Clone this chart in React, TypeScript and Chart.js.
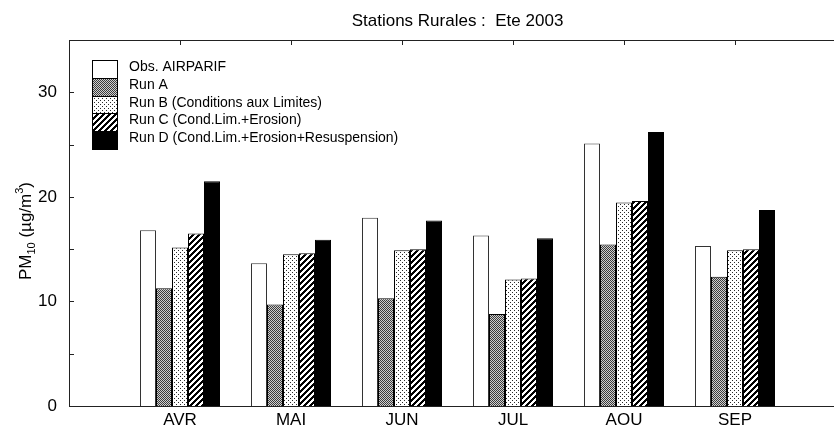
import React, { useEffect, useRef } from 'react';
import { Chart, registerables } from 'chart.js';

Chart.register(...registerables);

const months = ['AVR', 'MAI', 'JUN', 'JUL', 'AOU', 'SEP'];
const obsAirparif = [16.8, 13.65, 18.0, 16.3, 25.1, 15.3];
const runA = [11.25, 9.7, 10.3, 8.8, 15.45, 12.35];
const runB = [15.15, 14.5, 14.9, 12.1, 19.45, 14.9];
const runC = [16.5, 14.6, 15.0, 12.2, 19.6, 15.0];
const runD = [21.5, 15.9, 17.75, 16.05, 26.2, 18.75];
const seriesNames = [
  'Obs. AIRPARIF',
  'Run A',
  'Run B (Conditions aux Limites)',
  'Run C (Cond.Lim.+Erosion)',
  'Run D (Cond.Lim.+Erosion+Resuspension)',
];
const titleText = 'Stations Rurales :  Ete 2003';
const yMin = 0;
const yMax = 35;
const yStep = 5;
const yLabelStep = 10;

const FONT = '"Liberation Sans", Arial, Helvetica, sans-serif';

function makeTile(w: number, h: number, fn: (x: number, y: number) => string) {
  const c = document.createElement('canvas');
  c.width = w;
  c.height = h;
  const g = c.getContext('2d')!;
  for (let y = 0; y < h; y++) {
    for (let x = 0; x < w; x++) {
      g.fillStyle = fn(x, y);
      g.fillRect(x, y, 1, 1);
    }
  }
  return g.createPattern(c, 'repeat')!;
}

function makeFills() {
  const white = '#ffffff';
  const patA = makeTile(2, 2, (x, y) => ((x + y) % 2 === 0 ? '#3c3c3c' : '#cfcfcf'));
  const patB = makeTile(4, 4, (x, y) => ((x === 0 && y === 0) || (x === 2 && y === 2) ? '#2a2a2a' : '#ffffff'));
  const patC = makeTile(6, 6, (x, y) => ((x + y) % 6 < 3 ? '#000000' : '#ffffff'));
  const black = '#000000';
  return [white, patA, patB, patC, black];
}

export default function App() {
  const ref = useRef<HTMLCanvasElement | null>(null);

  useEffect(() => {
    if (!ref.current) return;
    const fills = makeFills();
    const borders = ['#333333', '#000000', '#000000', '#000000', '#000000'];
    const labels = ['', ...months, ''];
    const series = [obsAirparif, runA, runB, runC, runD];

    const decor = {
      id: 'decor',
      afterDraw(chart: any) {
        const ctx = chart.ctx as CanvasRenderingContext2D;
        const xs = chart.scales.x;
        const ys = chart.scales.y;
        const area = chart.chartArea;
        ctx.save();
        ctx.strokeStyle = '#222';
        ctx.lineWidth = 1;
        // inward ticks on left axis
        for (let v = yMin; v <= yMax; v += yStep) {
          const py = Math.round(ys.getPixelForValue(v)) + 0.5;
          ctx.beginPath();
          ctx.moveTo(area.left, py);
          ctx.lineTo(area.left + 5, py);
          ctx.stroke();
        }
        // inward ticks on top axis at categories
        for (let i = 1; i <= months.length; i++) {
          const px = Math.round(xs.getPixelForValue(i)) + 0.5;
          ctx.beginPath();
          ctx.moveTo(px, area.top);
          ctx.lineTo(px, area.top + 5);
          ctx.stroke();
        }
        // legend
        const bx = 92;
        const bw = 26;
        const by = 60;
        const bh = 17.8;
        for (let i = 0; i < seriesNames.length; i++) {
          const top = Math.round(by + bh * i);
          const bot = Math.round(by + bh * (i + 1));
          ctx.fillStyle = fills[i] as any;
          ctx.fillRect(bx, top, bw, bot - top);
          ctx.strokeStyle = '#000';
          ctx.strokeRect(bx + 0.5, top + 0.5, bw - 1, bot - top);
          ctx.fillStyle = '#000';
          ctx.font = `14px ${FONT}`;
          ctx.textAlign = 'left';
          ctx.textBaseline = 'alphabetic';
          ctx.fillText(seriesNames[i], 129, top + 10.8);
        }
        // y axis title with subscript / superscript
        const segs = [
          { t: 'PM', s: 17, dy: 0 },
          { t: '10', s: 11, dy: 4 },
          { t: ' (µg/m', s: 17, dy: 0 },
          { t: '3', s: 11, dy: -8 },
          { t: ')', s: 17, dy: 0 },
        ];
        let total = 0;
        for (const sg of segs) {
          ctx.font = `${sg.s}px ${FONT}`;
          total += ctx.measureText(sg.t).width;
        }
        ctx.translate(31, 231);
        ctx.rotate(-Math.PI / 2);
        let cx = -total / 2;
        ctx.fillStyle = '#000';
        ctx.textAlign = 'left';
        ctx.textBaseline = 'alphabetic';
        for (const sg of segs) {
          ctx.font = `${sg.s}px ${FONT}`;
          ctx.fillText(sg.t, cx, sg.dy);
          cx += ctx.measureText(sg.t).width;
        }
        ctx.restore();
      },
    };

    const chart = new Chart(ref.current, {
      type: 'bar',
      data: {
        labels,
        datasets: series.map((vals, i) => ({
          label: seriesNames[i],
          data: [null, ...vals, null],
          backgroundColor: fills[i] as any,
          borderColor: borders[i],
          borderWidth: 1,
          borderSkipped: 'start',
          xAxisID: 'x',
          yAxisID: 'y',
        })),
      },
      options: {
        animation: false,
        responsive: false,
        devicePixelRatio: 1,
        layout: { padding: { left: 0, right: 14, top: 0, bottom: 0 } },
        datasets: { bar: { categoryPercentage: 80 / 111, barPercentage: 1 } },
        plugins: {
          legend: { display: false },
          tooltip: { enabled: false },
          title: {
            display: true,
            text: titleText,
            color: '#000',
            fullSize: false,
            font: { family: FONT, size: 17, weight: 'normal' as any, lineHeight: 1.2 },
            padding: { top: 11, bottom: 0 },
          },
        },
        scales: {
          x: {
            type: 'category',
            position: 'bottom',
            offset: false,
            grid: { display: false, drawTicks: false },
            border: { display: true, color: '#222', width: 1 },
            ticks: {
              color: '#000',
              font: { family: FONT, size: 17 },
              padding: 4,
              autoSkip: false,
              maxRotation: 0,
              minRotation: 0,
            },
            afterFit: (s: any) => {
              s.height = 24;
            },
          },
          x2: {
            type: 'category',
            position: 'top',
            offset: false,
            grid: { display: false, drawTicks: false },
            border: { display: true, color: '#222', width: 1 },
            ticks: { display: false },
            afterFit: (s: any) => {
              s.height = 40 - (17 * 1.2 + 11);
            },
          },
          y: {
            type: 'linear',
            position: 'left',
            min: yMin,
            max: yMax,
            grid: { display: false, drawTicks: false },
            border: { display: true, color: '#222', width: 1 },
            ticks: {
              stepSize: yStep,
              color: '#000',
              font: { family: FONT, size: 17 },
              padding: 12,
              callback: (v: any) => (Number(v) % yLabelStep === 0 ? String(v) : ''),
            },
            afterFit: (s: any) => {
              s.width = 69;
            },
          },
        },
      },
      plugins: [decor],
    } as any);

    return () => chart.destroy();
  }, []);

  return (
    <div style={{ position: 'fixed', left: 0, top: 0, width: 834, height: 430, overflow: 'hidden', background: '#fff' }}>
      <canvas ref={ref} width={860} height={430} style={{ width: 860, height: 430, display: 'block' }} />
    </div>
  );
}
